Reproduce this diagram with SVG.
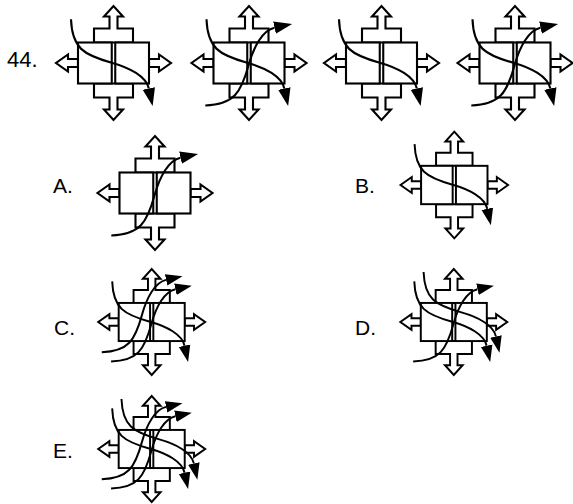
<svg xmlns="http://www.w3.org/2000/svg" width="573" height="504" viewBox="0 0 573 504">
<style>
.sh{fill:#fff;stroke:#000;stroke-width:2.1;stroke-linejoin:miter}
.cv{fill:none;stroke:#000;stroke-width:2.1;marker-end:url(#ah)}
.lb{font-family:"Liberation Sans",Arial,sans-serif;font-size:21px;fill:#000}
</style>
<defs>
<marker id="ah" markerUnits="userSpaceOnUse" viewBox="0 -7 19 14" refX="0" refY="0" markerWidth="19" markerHeight="14" orient="auto">
<path d="M0,-6.3 L18,0 L0,6.3 Z" fill="#000"/>
</marker>
<g id="shape">
<path class="sh" d="M-19.5,-20.5 V-34.5 H-4 V-46.5 H-9.5 L0,-57 L9.5,-46.5 H4 V-34.5 H19.5 V-20.5 Z"/>
<path class="sh" d="M-19.5,20.5 V34.5 H-4 V46.5 H-9.5 L0,57 L9.5,46.5 H4 V34.5 H19.5 V20.5 Z"/>
<path class="sh" d="M-35.5,-4 H-45.5 V-8.5 L-57.5,0 L-45.5,8.5 V4 H-35.5 Z"/>
<path class="sh" d="M35.5,-4 H45.5 V-8.5 L57.5,0 L45.5,8.5 V4 H35.5 Z"/>
<rect class="sh" x="-35.5" y="-20.5" width="33.75" height="41"/>
<rect class="sh" x="1.75" y="-20.5" width="33.75" height="41"/>
</g>
<path id="c1" class="cv" d="M-42.5,-43.7 C-41.5,-15 -30,-8 -1.8,-0.3 C16.2,4.7 32.7,13.5 35.3,25.5"/>
</defs>
<g id="labels">
<text class="lb" x="7" y="67" style="font-size:22px">44.</text>
<text class="lb" x="53" y="193">A.</text>
<text class="lb" x="355" y="193">B.</text>
<text class="lb" x="54" y="335">C.</text>
<text class="lb" x="355" y="335">D.</text>
<text class="lb" x="53" y="458">E.</text>
</g>
<g id="fig1" transform="translate(113.5,63)">
<use href="#shape"/>
<g class="connectors"><use href="#c1"/></g>
</g>
<g id="fig2" transform="translate(249,63)">
<use href="#shape"/>
<g class="connectors"><use href="#c1"/><use href="#c1" transform="rotate(-90)"/></g>
</g>
<g id="fig3" transform="translate(381.5,63)">
<use href="#shape"/>
<g class="connectors"><use href="#c1"/></g>
</g>
<g id="fig4" transform="translate(515,63)">
<use href="#shape"/>
<g class="connectors"><use href="#c1"/><use href="#c1" transform="rotate(-90)"/></g>
</g>
<g id="optA" transform="translate(155,193)">
<use href="#shape"/>
<g class="connectors"><use href="#c1" transform="rotate(-90)"/></g>
</g>
<g id="optB" transform="translate(454.3,185) scale(0.935)">
<use href="#shape"/>
<g class="connectors"><use href="#c1"/></g>
</g>
<g id="optC" transform="translate(151.7,322) scale(0.93)">
<use href="#shape"/>
<g class="connectors"><use href="#c1"/><use href="#c1" transform="rotate(-90)"/><use href="#c1" transform="translate(-10,-10) rotate(-90)"/></g>
</g>
<g id="optD" transform="translate(453.8,322) scale(0.93)">
<use href="#shape"/>
<g class="connectors"><use href="#c1"/><use href="#c1" transform="translate(10,-10)"/><use href="#c1" transform="rotate(-90)"/></g>
</g>
<g id="optE" transform="translate(151.7,449) scale(0.93)">
<use href="#shape"/>
<g class="connectors"><use href="#c1"/><use href="#c1" transform="translate(10,-10)"/><use href="#c1" transform="rotate(-90)"/><use href="#c1" transform="translate(-10,-10) rotate(-90)"/></g>
</g>
</svg>
